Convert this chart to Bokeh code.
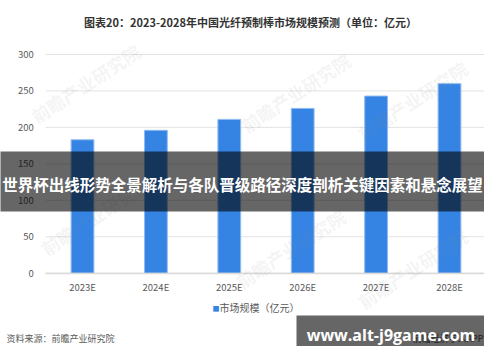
from bokeh.plotting import figure
from bokeh.models import Label, FixedTicker, Range1d, BoxAnnotation
from bokeh.embed import file_html
from bokeh.resources import INLINE

years = ["2023E", "2024E", "2025E", "2026E", "2027E", "2028E"]
values = [183, 196, 211, 226, 243, 260]
y_ticks = [0, 50, 100, 150, 200, 250, 300]
title_text = "图表20：2023-2028年中国光纤预制棒市场规模预测（单位：亿元）"
legend_text = "市场规模（亿元）"
source_text = "资料来源：前瞻产业研究院"
banner_text = "世界杯出线形势全景解析与各队晋级路径深度剖析关键因素和悬念展望"
site_text = "www.alt-j9game.com"
app_text = "前瞻经济学人APP"
watermark_text = "前瞻产业研究院"

W, H = 484, 346
FONT = "Noto Sans CJK SC"

# layout: category area starts at px 45.3, each category 73.4 px wide;
# value 0 at px 272.7 from top, 300 at px 54
CAT_W, LEFT0 = 73.4, 45.3
Y0_PX, Y300_PX = 272.7, 54.0
ppu = (Y0_PX - Y300_PX) / 300.0
x_start = -LEFT0 / CAT_W
x_end = x_start + W / CAT_W
y_end = 300 + Y300_PX / ppu
y_start = -(H - Y0_PX) / ppu

centers = [i + 0.5 for i in range(len(years))]

p = figure(x_range=Range1d(x_start, x_end), y_range=Range1d(y_start, y_end),
           width=W, height=H, title=None,
           output_backend="svg", toolbar_location=None,
           min_border=0, min_border_left=0, min_border_right=0,
           min_border_top=0, min_border_bottom=0)
p.outline_line_color = None
p.background_fill_color = "white"
p.border_fill_color = "white"
p.xgrid.visible = False
p.ygrid.visible = False

# horizontal gridlines across the category area
p.segment(x0=[0] * len(y_ticks), x1=[len(years)] * len(y_ticks),
          y0=y_ticks, y1=y_ticks, line_color="#e3e3e3", line_width=1)

p.vbar(x=centers, top=values, width=0.31, fill_color="#3584e4",
       line_color="#8dbaf0", line_width=1)

p.yaxis.fixed_location = 0
p.yaxis.ticker = FixedTicker(ticks=y_ticks)
p.yaxis.axis_line_color = None
p.yaxis.major_tick_line_color = None
p.yaxis.minor_tick_line_color = None
p.yaxis.major_tick_out = 0
p.yaxis.major_tick_in = 0
p.yaxis.major_label_standoff = 12

p.xaxis.fixed_location = 0
p.xaxis.bounds = (0, len(years))
p.xaxis.ticker = FixedTicker(ticks=centers)
p.xaxis.major_label_overrides = {c: y for c, y in zip(centers, years)}
p.xaxis.axis_line_color = "#d9d9d9"
p.xaxis.axis_line_width = 1.5
p.xaxis.major_tick_line_color = None
p.xaxis.minor_tick_line_color = None
p.xaxis.major_tick_out = 0
p.xaxis.major_tick_in = 0
p.xaxis.major_label_standoff = 7
for ax in (p.xaxis, p.yaxis):
    ax.major_label_text_font = FONT
    ax.major_label_text_font_size = "9.5px"
    ax.major_label_text_color = "#595959"


def lab(text, fx, fy, **kw):
    l = Label(x=fx, y=H - fy, x_units="screen", y_units="screen", text=text,
              text_font=FONT, **kw)
    p.add_layout(l)
    return l


# faint diagonal watermarks
for wx, wy in [(85, 83), (295, 92), (412, 100), (95, 215), (290, 248), (412, 268)]:
    lab(watermark_text, wx, wy, text_align="center", text_baseline="middle",
        text_font_size="18px", text_font_style="bold", text_color="#8a8a8a",
        text_alpha=0.1, angle=0.58)

lab(title_text, 250, 21.7, text_align="center", text_baseline="middle",
    text_font_size="11px", text_font_style="bold", text_color="#333333")
lab("■", 215.5, 307, text_align="center", text_baseline="middle",
    text_font_size="7px", text_color="#3584e4")
lab(legend_text, 219, 307, text_align="left", text_baseline="middle",
    text_font_size="10px", text_color="#595959")
lab(source_text, 6, 338.3, text_align="left", text_baseline="middle",
    text_font_size="9px", text_color="#595959")
lab(app_text, 483, 338, text_align="right", text_baseline="middle",
    text_font_size="9px", text_color="#555555")

# dark translucent banner across the middle
p.add_layout(BoxAnnotation(left=-10, right=W + 10, top=H - 151, bottom=H - 211,
                           left_units="screen", right_units="screen",
                           top_units="screen", bottom_units="screen",
                           fill_color="black", fill_alpha=0.6, line_color=None))
lab(banner_text, 242, 183, text_align="center", text_baseline="middle",
    text_font_size="15.5px", text_font_style="bold", text_color="white")

# site box bottom right
p.add_layout(BoxAnnotation(left=296, right=491, top=H - 315, bottom=H - 352.7,
                           left_units="screen", right_units="screen",
                           top_units="screen", bottom_units="screen",
                           fill_color="black", fill_alpha=0.6, line_color=None))
site = lab(site_text, 390.5, 334, text_align="center", text_baseline="middle",
           text_font_size="16px", text_font_style="bold", text_color="white")
site.text_font = "Open Sans"

open("out.html", "w").write(file_html(p, INLINE))
